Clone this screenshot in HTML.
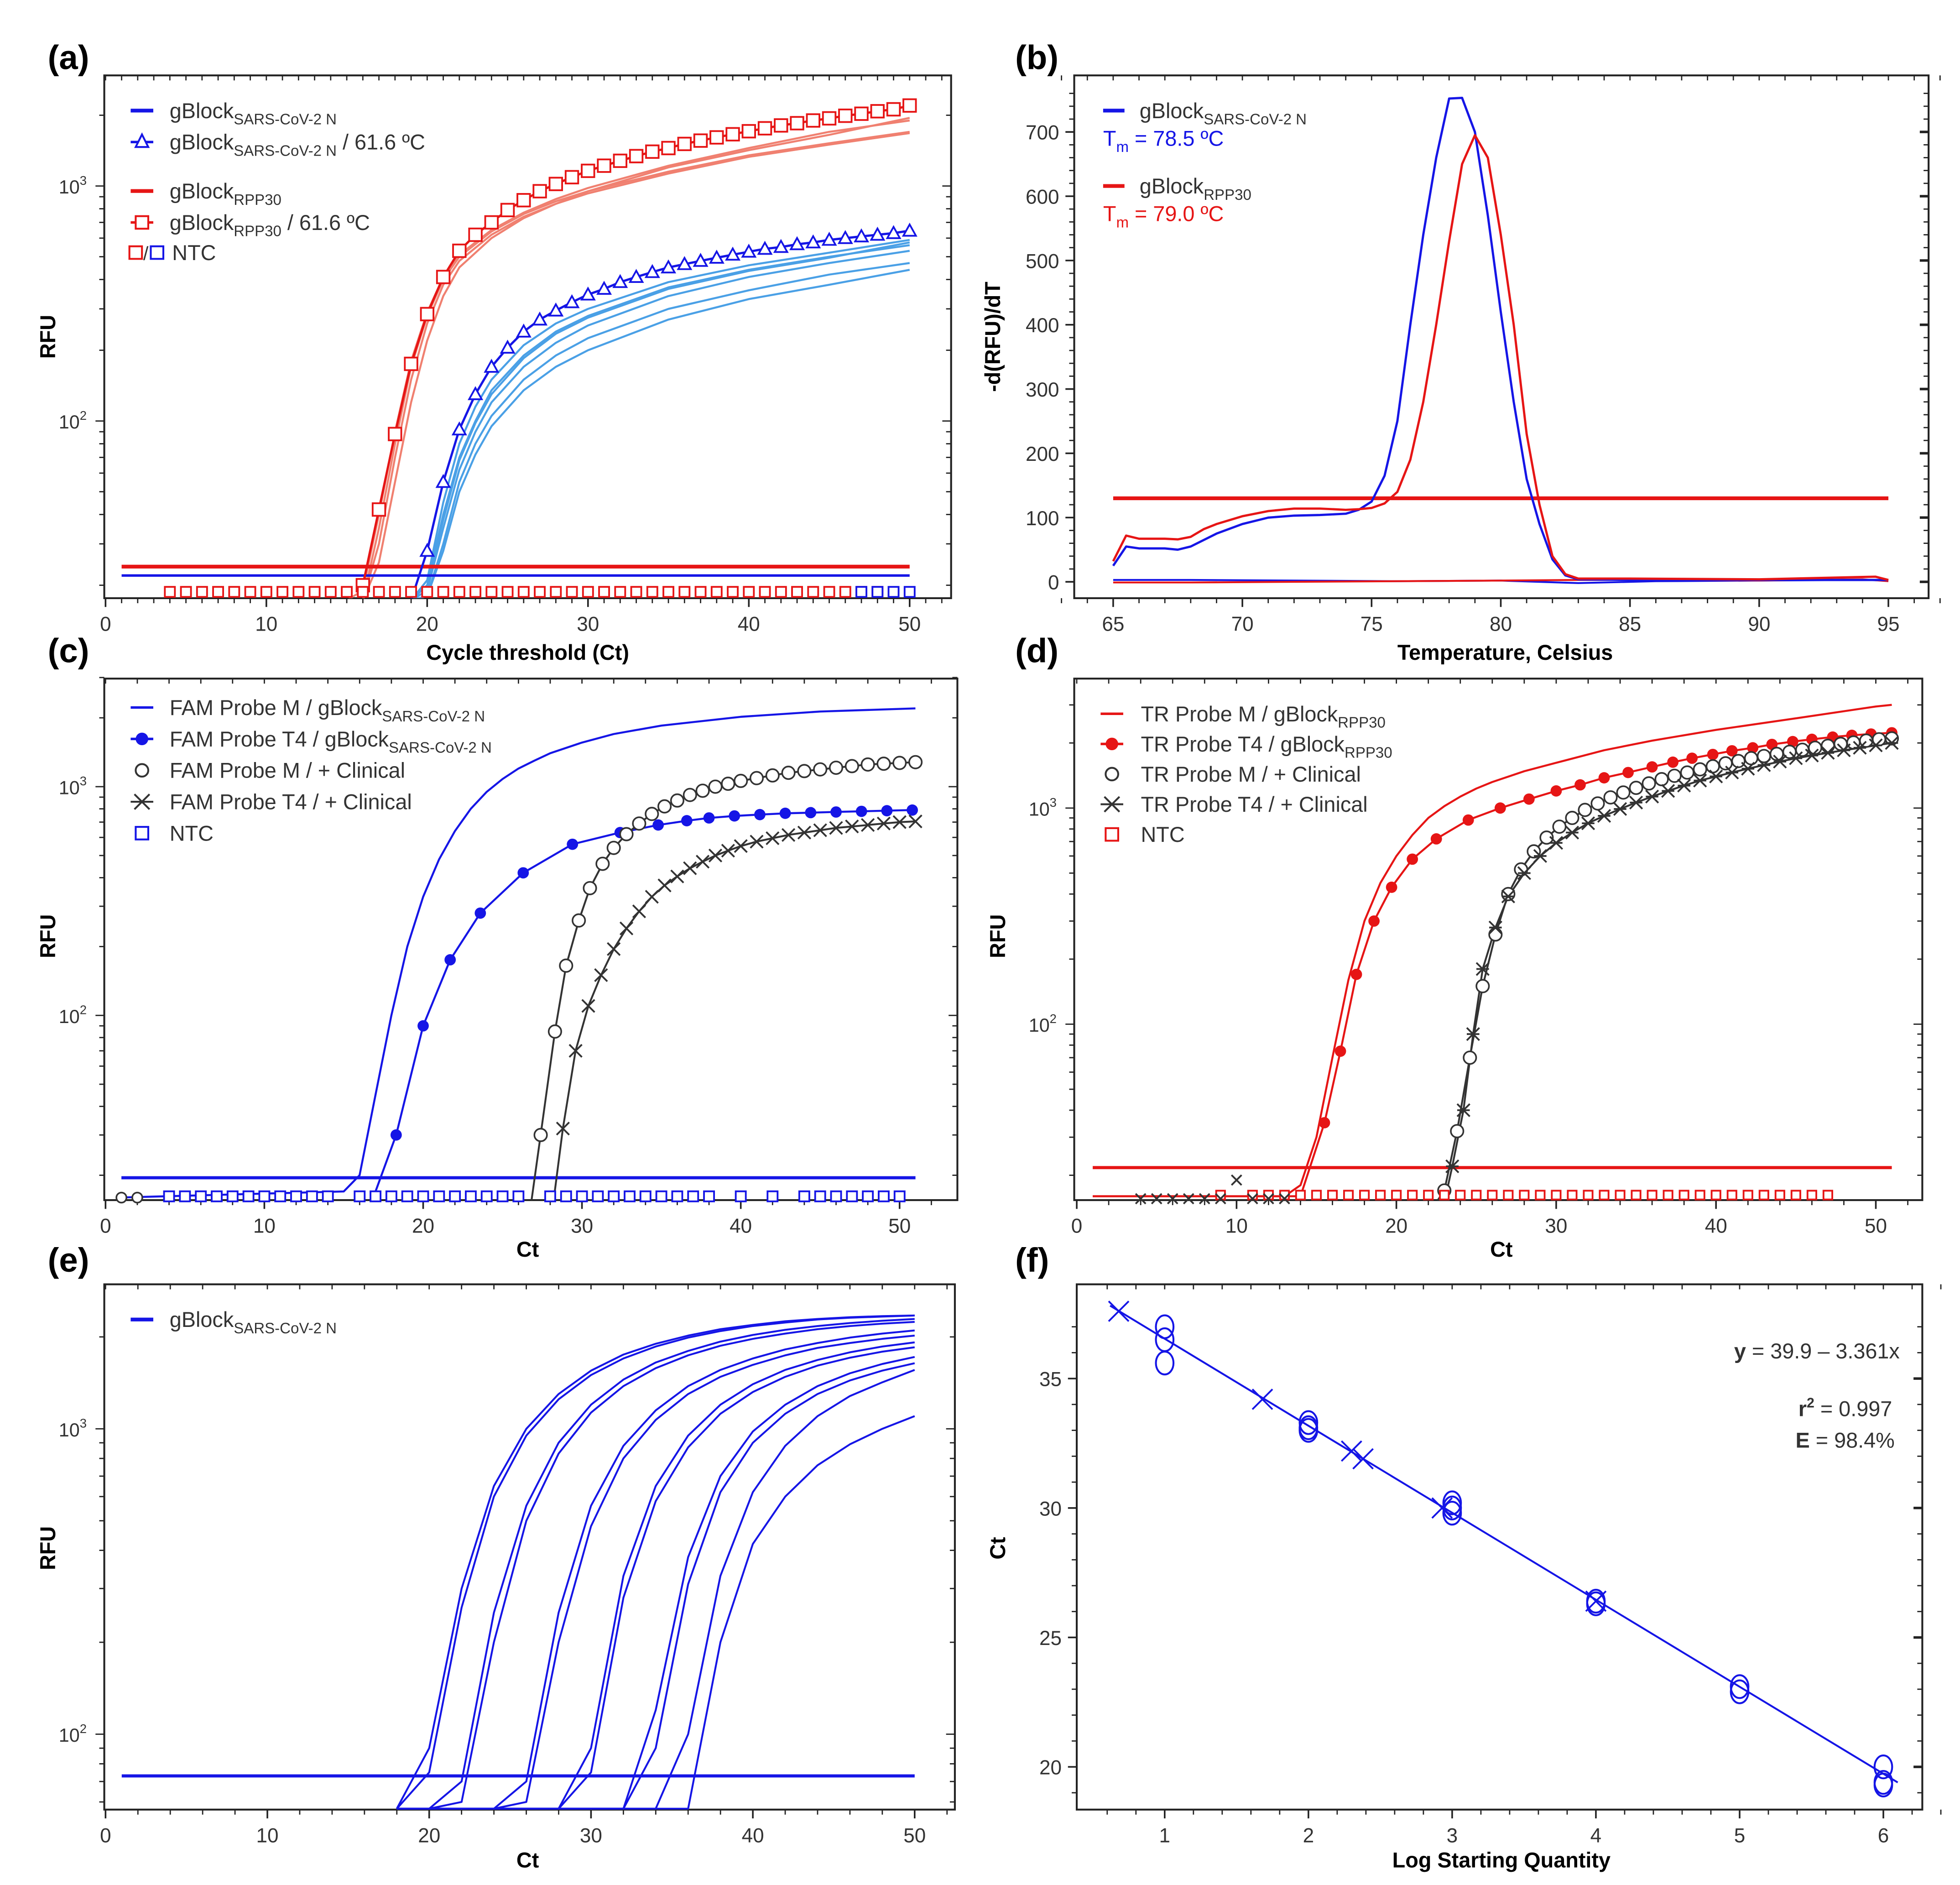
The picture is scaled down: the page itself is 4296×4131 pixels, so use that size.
<!DOCTYPE html>
<html><head><meta charset="utf-8"><style>
html,body{margin:0;padding:0;background:#fff;}
svg{display:block;font-family:"Liberation Sans",Arial,sans-serif;}
.pl{font-weight:bold;font-size:27px;}
.at{font-weight:bold;font-size:17px;}
.lg{font-size:17px;}
</style></head><body>
<svg id="fig" width="4296" height="4131" viewBox="0 0 1560 1500" preserveAspectRatio="none">
<defs>
<clipPath id="cA"><rect x="83" y="60" width="674" height="416"/></clipPath>
<clipPath id="cB"><rect x="855" y="60" width="680" height="416"/></clipPath>
<clipPath id="cC"><rect x="83" y="540" width="679" height="415"/></clipPath>
<clipPath id="cD"><rect x="855" y="540" width="675" height="415"/></clipPath>
<clipPath id="cE"><rect x="83" y="1022" width="677" height="418"/></clipPath>
<clipPath id="cF"><rect x="857" y="1022" width="673" height="418"/></clipPath>
</defs>
<text class="pl" x="38" y="55">(a)</text>
<text class="pl" x="808" y="55">(b)</text>
<text class="pl" x="38" y="527">(c)</text>
<text class="pl" x="808" y="527">(d)</text>
<text class="pl" x="38" y="1012">(e)</text>
<text class="pl" x="808" y="1012">(f)</text>

<text class="at" x="420" y="525" text-anchor="middle">Cycle threshold (Ct)</text>
<text class="at" x="1198" y="525" text-anchor="middle">Temperature, Celsius</text>
<text class="at" x="420" y="1000" text-anchor="middle">Ct</text>
<text class="at" x="1195" y="1000" text-anchor="middle">Ct</text>
<text class="at" x="420" y="1486" text-anchor="middle">Ct</text>
<text class="at" x="1195" y="1486" text-anchor="middle">Log Starting Quantity</text>
<text class="at" transform="translate(44,268) rotate(-90)" text-anchor="middle">RFU</text>
<text class="at" transform="translate(796,268) rotate(-90)" text-anchor="middle">-d(RFU)/dT</text>
<text class="at" transform="translate(44,745) rotate(-90)" text-anchor="middle">RFU</text>
<text class="at" transform="translate(800,745) rotate(-90)" text-anchor="middle">RFU</text>
<text class="at" transform="translate(44,1232) rotate(-90)" text-anchor="middle">RFU</text>
<text class="at" transform="translate(800,1232) rotate(-90)" text-anchor="middle">Ct</text>

<g class="lg">
<line x1="104" y1="88" x2="122" y2="88" stroke="#1515e6" stroke-width="3"/>
<text x="135" y="94" fill="#333">gBlock<tspan font-size="12" dy="5">SARS-CoV-2 N</tspan></text>
<line x1="104" y1="113" x2="122" y2="113" stroke="#1515e6" stroke-width="2"/>
<path d="M113,107 L118,117 L108,117 Z" fill="#fff" stroke="#1515e6" stroke-width="1.5"/>
<text x="135" y="119" fill="#333">gBlock<tspan font-size="12" dy="5">SARS-CoV-2 N</tspan><tspan dy="-5"> / 61.6 ºC</tspan></text>
<line x1="104" y1="152" x2="122" y2="152" stroke="#e61515" stroke-width="3"/>
<text x="135" y="158" fill="#333">gBlock<tspan font-size="12" dy="5">RPP30</tspan></text>
<line x1="104" y1="177" x2="122" y2="177" stroke="#e61515" stroke-width="2"/>
<rect x="108" y="172" width="10" height="10" fill="#fff" stroke="#e61515" stroke-width="1.5"/>
<text x="135" y="183" fill="#333">gBlock<tspan font-size="12" dy="5">RPP30</tspan><tspan dy="-5"> / 61.6 ºC</tspan></text>
<rect x="103" y="196" width="10" height="10" fill="none" stroke="#e61515" stroke-width="1.5"/>
<text x="114" y="207" fill="#333" font-size="15">/</text>
<rect x="120" y="196" width="10" height="10" fill="none" stroke="#1515e6" stroke-width="1.5"/>
<text x="137" y="207" fill="#333">NTC</text>
</g>
<g class="lg">
<line x1="878" y1="88" x2="895" y2="88" stroke="#1515e6" stroke-width="3"/>
<text x="907" y="94" fill="#333">gBlock<tspan font-size="12" dy="5">SARS-CoV-2 N</tspan></text>
<text x="878" y="116" fill="#1515e6">T<tspan font-size="12" dy="5">m</tspan><tspan dy="-5"> = 78.5 ºC</tspan></text>
<line x1="878" y1="148" x2="895" y2="148" stroke="#e61515" stroke-width="3"/>
<text x="907" y="154" fill="#333">gBlock<tspan font-size="12" dy="5">RPP30</tspan></text>
<text x="878" y="176" fill="#e61515">T<tspan font-size="12" dy="5">m</tspan><tspan dy="-5"> = 79.0 ºC</tspan></text>
</g>
<g class="lg">
<line x1="104" y1="563" x2="122" y2="563" stroke="#1515e6" stroke-width="2"/>
<text x="135" y="569" fill="#333">FAM Probe M / gBlock<tspan font-size="12" dy="5">SARS-CoV-2 N</tspan></text>
<line x1="104" y1="588" x2="122" y2="588" stroke="#1515e6" stroke-width="2"/>
<circle cx="113" cy="588" r="5" fill="#1515e6"/>
<text x="135" y="594" fill="#333">FAM Probe T4 / gBlock<tspan font-size="12" dy="5">SARS-CoV-2 N</tspan></text>
<circle cx="113" cy="613" r="5" fill="#fff" stroke="#333" stroke-width="1.5"/>
<text x="135" y="619" fill="#333">FAM Probe M / + Clinical</text>
<path d="M107,632 L119,644 M119,632 L107,644 M104,638 L122,638" stroke="#333" stroke-width="1.5"/>
<text x="135" y="644" fill="#333">FAM Probe T4 / + Clinical</text>
<rect x="108" y="658" width="10" height="10" fill="none" stroke="#1515e6" stroke-width="1.5"/>
<text x="135" y="669" fill="#333">NTC</text>
</g>
<g class="lg">
<line x1="876" y1="568" x2="894" y2="568" stroke="#e61515" stroke-width="2"/>
<text x="908" y="574" fill="#333">TR Probe M / gBlock<tspan font-size="12" dy="5">RPP30</tspan></text>
<line x1="876" y1="592" x2="894" y2="592" stroke="#e61515" stroke-width="2"/>
<circle cx="885" cy="592" r="5" fill="#e61515"/>
<text x="908" y="598" fill="#333">TR Probe T4 / gBlock<tspan font-size="12" dy="5">RPP30</tspan></text>
<circle cx="885" cy="616" r="5" fill="#fff" stroke="#333" stroke-width="1.5"/>
<text x="908" y="622" fill="#333">TR Probe M / + Clinical</text>
<path d="M879,634 L891,646 M891,634 L879,646 M876,640 L894,640" stroke="#333" stroke-width="1.5"/>
<text x="908" y="646" fill="#333">TR Probe T4 / + Clinical</text>
<rect x="880" y="659" width="10" height="10" fill="none" stroke="#e61515" stroke-width="1.5"/>
<text x="908" y="670" fill="#333">NTC</text>
</g>
<g class="lg">
<line x1="104" y1="1050" x2="122" y2="1050" stroke="#1515e6" stroke-width="3"/>
<text x="135" y="1056" fill="#333">gBlock<tspan font-size="12" dy="5">SARS-CoV-2 N</tspan></text>
</g>
<g class="lg" fill="#333" text-anchor="end">
<text x="1512" y="1081"><tspan font-weight="bold">y</tspan> = 39.9 – 3.361x</text>
<text x="1506" y="1127"><tspan font-weight="bold">r</tspan><tspan font-size="11" dy="-7" font-weight="bold">2</tspan><tspan dy="7"> = 0.997</tspan></text>
<text x="1508" y="1152"><tspan font-weight="bold">E</tspan> = 98.4%</text>
</g>
</svg>
<script>
// Panel (a)
const A_CYC = [16,17,18,19,20,21,22,23,24,25,26,27,28,29,30,31,32,33,34,35,36,37,38,39,40,41,42,43,44,45,46,47,48,49,50];
const A_RPP_616 = [20,42,88,175,285,410,530,620,700,790,870,950,1020,1090,1160,1220,1280,1340,1400,1450,1510,1560,1610,1660,1710,1760,1810,1850,1900,1940,1990,2030,2080,2120,2200];
const A_SARS_CYC = [19,20,21,22,23,24,25,26,27,28,29,30,31,32,33,34,35,36,37,38,39,40,41,42,43,44,45,46,47,48,49,50];
const A_SARS_616 = [17,28,55,92,130,170,205,240,270,295,320,345,365,390,410,430,450,465,480,495,510,525,540,550,565,575,590,600,610,620,630,645];
const A_FAINT_RED_CYC = [15,16,17,18,19,20,21,22,24,26,28,30,35,40,45,50];
const A_FAINT_RED_1 = [17,17,35,80,170,280,400,500,640,760,860,950,1150,1350,1520,1700];
const A_FAINT_RED_2 = [17,17,30,70,150,260,380,480,620,740,840,930,1130,1330,1500,1680];
const A_FAINT_RED_3 = [17,17,25,55,120,220,340,450,600,730,840,950,1200,1420,1650,1950];
const A_FAINT_RED_4 = [17,19,40,90,180,290,410,510,650,770,880,980,1220,1450,1700,1900];
const A_FAINT_BLUE_CYC = [19,20,21,22,23,24,26,28,30,35,40,45,50];
const A_FAINT_BLUE_1 = [17,20,40,70,100,135,190,240,280,370,440,500,560];
const A_FAINT_BLUE_2 = [17,19,35,62,90,120,170,215,255,340,410,470,530];
const A_FAINT_BLUE_3 = [17,18,30,55,80,105,150,190,225,300,360,420,470];
const A_FAINT_BLUE_4 = [17,18,28,50,72,95,135,170,200,270,330,380,440];
const A_FAINT_BLUE_5 = [17,21,45,80,115,150,210,260,300,390,460,520,590];
const A_FAINT_BLUE_6 = [17,20,38,68,98,130,185,235,275,365,435,495,575];
const A_THRESH = [24, 22];
const A_NTC_RED = [4,5,6,7,8,9,10,11,12,13,14,15,16,17,18,19,20,21,22,23,24,25,26,27,28,29,30,31,32,33,34,35,36,37,38,39,40,41,42,43,44,45,46,47,48];
const A_NTC_BLUE = [47,48,49,50];
const A_X_TICKS = [0,10,20,30,40,50];
// Panel (b)
const B_T_BLUE = [65,65.5,66,67,67.5,68,69,70,71,72,73,74,74.5,75,75.5,76,76.5,77,77.5,78,78.5,79,79.5,80,80.5,81,81.5,82,82.5,83,85,90,95];
const B_BLUE = [25,55,52,52,50,55,75,90,100,103,104,106,112,125,165,250,400,540,660,752,753,700,570,420,280,160,90,35,10,4,3,3,3];
const B_T_RED = [65,65.5,66,67,67.5,68,68.5,69,70,71,72,73,74,74.5,75,75.5,76,76.5,77,77.5,78,78.5,79,79.5,80,80.5,81,81.5,82,82.5,83,85,90,94.5,95];
const B_RED = [32,72,67,67,66,70,82,90,102,110,114,114,112,113,115,122,140,190,280,400,530,650,695,660,540,400,230,120,40,12,5,5,4,8,3];
const B_T_BASE = [65,68,72,76,80,83,86,90,94,95];
const B_BASE_BLUE = [3,3,2,1,2,-2,1,2,3,2];
const B_BASE_RED = [-1,-1,0,1,2,3,3,2,4,1];
const B_THRESH = [130];
const B_X_TICKS = [65,70,75,80,85,90,95];
const B_Y_TICKS = [0,100,200,300,400,500,600,700];
// Panel (c)
const C_M_CYC = [1,15,16,17,18,19,20,21,22,23,24,25,26,27,28,30,32,35,40,45,51];
const C_M = [16,17,20,45,100,200,330,480,640,800,950,1080,1200,1300,1400,1560,1700,1850,2020,2130,2200];
const C_T4_CYC = [17,18.3,20,21.7,23.6,26.3,29.4,32.4,34.8,36.6,38,39.6,41.2,42.8,44.4,46,47.6,49.2,50.8];
const C_T4 = [17,30,90,175,280,420,560,630,680,710,730,745,755,765,770,775,780,785,790];
const C_CM_CYC = [1,26.8,27.4,28.3,29,29.8,30.5,31.3,32,32.8,33.6,34.4,35.2,36,36.8,37.6,38.4,39.2,40,41,42,43,44,45,46,47,48,49,50,51];
const C_CM = [15,15,30,85,165,260,360,460,540,620,690,760,820,870,920,960,1000,1030,1060,1090,1120,1150,1170,1190,1210,1230,1250,1260,1270,1280];
const C_CT4_CYC = [1,28.2,28.8,29.6,30.4,31.2,32,32.8,33.6,34.4,35.2,36,36.8,37.6,38.4,39.2,40,41,42,43,44,45,46,47,48,49,50,51];
const C_CT4 = [15,15,32,70,110,150,195,240,285,330,370,405,440,470,500,525,550,575,595,615,630,645,660,670,680,690,700,705];
const C_NTC = [4,5,6,7,8,9,10,11,12,13,14,16,17,18,19,20,21,22,23,24,25,26,28,29,30,31,32,33,34,35,36,37,38,40,42,44,45,46,47,48,49,50];
const C_THRESH = [19.5];
const C_X_TICKS = [0,10,20,30,40,50];
// Panel (d)
const D_M_CYC = [1,13,14,15,16,17,18,19,20,21,22,23,24,25,26,28,30,33,36,40,45,50,51];
const D_M = [16,16,18,30,70,160,300,450,600,750,900,1020,1130,1230,1320,1480,1620,1850,2050,2300,2600,2950,3000];
const D_T4_CYC = [1,13,14,15.5,16.5,17.5,18.6,19.7,21,22.5,24.5,26.5,28.3,30,31.5,33,34.5,36,37.3,38.5,39.8,41,42.3,43.5,44.8,46,47.3,48.5,49.7,51];
const D_T4 = [16,16,16,35,75,170,300,430,580,720,880,1000,1100,1200,1280,1380,1460,1550,1630,1700,1770,1840,1900,1970,2030,2080,2130,2170,2200,2230];
const D_CM_CYC = [1,22.5,23,23.8,24.6,25.4,26.2,27,27.8,28.6,29.4,30.2,31,31.8,32.6,33.4,34.2,35,35.8,36.6,37.4,38.2,39,39.8,40.6,41.4,42.2,43,43.8,44.6,45.4,46.2,47,47.8,48.6,49.4,50.2,51];
const D_CM = [15,15,17,32,70,150,260,400,520,630,730,820,900,980,1050,1120,1180,1240,1300,1360,1410,1460,1510,1560,1610,1650,1700,1740,1780,1820,1860,1900,1940,1980,2010,2050,2080,2100];
const D_CT4_CYC = [1,23,23.5,24.2,24.8,25.4,26.2,27,28,29,30,31,32,33,34,35,36,37,38,39,40,41,42,43,44,45,46,47,48,49,50,51];
const D_CT4 = [15,15,22,40,90,180,280,390,500,600,690,770,850,920,990,1060,1130,1200,1270,1340,1400,1460,1520,1580,1640,1700,1750,1800,1850,1900,1950,2000];
const D_NTC = [9,11,12,13,14,15,16,17,18,19,20,21,22,23,24,25,26,27,28,29,30,31,32,33,34,35,36,37,38,39,40,41,42,43,44,45,46,47];
const D_NTC_X = [4,5,6,7,8,9,10,11,12,13];
const D_NTC_X_VAL = [16,16,16,16,16,16,19,16,16,16];
const D_THRESH = [21.7];
const D_X_TICKS = [0,10,20,30,40,50];
// Panel (e)
const E_CYC = [18,20,22,24,26,28,30,32,34,36,38,40,42,44,46,48,50];
const E_1 = [57,90,300,650,1000,1300,1550,1750,1900,2020,2120,2190,2250,2290,2320,2340,2350];
const E_2 = [57,75,260,600,950,1250,1500,1700,1860,1990,2090,2170,2230,2280,2310,2330,2350];
const E_3 = [57,57,70,250,560,900,1200,1450,1650,1800,1930,2030,2110,2170,2220,2260,2290];
const E_4 = [57,57,60,200,500,830,1130,1380,1580,1740,1870,1970,2050,2120,2170,2210,2240];
const E_5 = [57,57,57,57,70,250,560,880,1150,1380,1560,1700,1820,1910,1990,2050,2100];
const E_6 = [57,57,57,57,60,200,480,800,1070,1300,1480,1620,1740,1840,1910,1970,2020];
const E_7 = [57,57,57,57,57,57,90,330,650,950,1200,1400,1560,1680,1780,1860,1920];
const E_8 = [57,57,57,57,57,57,75,280,580,870,1120,1320,1480,1610,1710,1790,1850];
const E_9 = [57,57,57,57,57,57,57,57,120,380,700,980,1200,1380,1520,1630,1720];
const E_10 = [57,57,57,57,57,57,57,57,90,310,620,900,1120,1300,1440,1550,1640];
const E_11 = [57,57,57,57,57,57,57,57,57,100,330,620,880,1100,1280,1420,1560];
const E_12 = [57,57,57,57,57,57,57,57,57,57,200,420,600,760,890,1000,1100];
const E_THRESH = [73];
const E_X_TICKS = [0,10,20,30,40,50];
// Panel (f)
const F_X_CIRC = [1,1,1,2,2,2,3,3,3,4,4,5,5,6,6,6];
const F_Y_CIRC = [37.0,36.5,35.6,33.3,33.0,33.1,30.2,29.8,30.0,26.4,26.3,23.1,22.9,20.0,19.4,19.3];
const F_X_CROSS = [0.68,1.68,2.3,2.38,2.93,4.0];
const F_Y_CROSS = [37.6,34.2,32.2,31.9,30.0,26.4];
const F_FIT = [39.9, -3.361];
const F_FIT_RANGE = [0.62, 6.1];
const F_X_TICKS = [1,2,3,4,5,6];
const F_Y_TICKS = [20,25,30,35];

const NS='http://www.w3.org/2000/svg';
const svg=document.getElementById('fig');
function mk(tag,attrs,parent){const e=document.createElementNS(NS,tag);for(const k in attrs)e.setAttribute(k,attrs[k]);(parent||svg).appendChild(e);return e;}
const BLUE='#1515e6', RED='#e61515', LBLUE='#4aa0e6', LRED='#f08070', DARK='#333';
function logY(y3,dec){return v=>y3-dec*(Math.log10(v)-3);}
function lin(a0,p0,a1,p1){return v=>p0+(v-a0)*(p1-p0)/(a1-a0);}

const PA={x0:83,x1:757,y0:60,y1:476,xs:lin(0,84,50,724),ys:logY(148,187),clip:'cA',ymin:17.6,ymax:2800};
const PB={x0:855,x1:1535,y0:60,y1:476,xs:lin(65,886,95,1503),ys:lin(0,463,700,105),clip:'cB'};
const PC={x0:83,x1:762,y0:540,y1:955,xs:lin(0,84,50,716),ys:logY(626,182),clip:'cC',ymin:15.5,ymax:3000};
const PD={x0:855,x1:1530,y0:540,y1:955,xs:lin(0,857,50,1493),ys:logY(643,172),clip:'cD',ymin:15.2,ymax:3800};
const PE={x0:83,x1:760,y0:1022,y1:1440,xs:lin(0,84,50,728),ys:logY(1137,243),clip:'cE',ymin:57,ymax:2900};
const PF={x0:857,x1:1530,y0:1022,y1:1440,xs:lin(1,927,6,1499),ys:lin(20,1406,35,1097),clip:'cF'};

function frame(P,name){
  const r=mk('rect',{x:P.x0,y:P.y0,width:P.x1-P.x0,height:P.y1-P.y0,fill:'none',stroke:'#222','stroke-width':1.5});
  
  
}
function xTicks(P,ticks,minorStep,lo,hi,name){
  const g=mk('g',{});
  
  
  for(let v=lo;v<=hi+1e-9;v+=minorStep){const x=P.xs(v);mk('line',{x1:x,y1:P.y1,x2:x,y2:P.y1+4,stroke:'#222','stroke-width':1},g);mk('line',{x1:x,y1:P.y0,x2:x,y2:P.y0+4,stroke:'#222','stroke-width':1},g);}
  ticks.forEach(v=>{const x=P.xs(v);mk('line',{x1:x,y1:P.y1,x2:x,y2:P.y1+7,stroke:'#222','stroke-width':1.3},g);
    const t=mk('text',{x:x,y:P.y1+26,'text-anchor':'middle','font-size':16,fill:'#333'},g);t.textContent=v;
    
    });
}
function yTicksLin(P,ticks,minorStep,lo,hi,name){
  const g=mk('g',{});
  
  
  for(let v=lo;v<=hi+1e-9;v+=minorStep){const y=P.ys(v);mk('line',{x1:P.x0-4,y1:y,x2:P.x0,y2:y,stroke:'#222','stroke-width':1},g);mk('line',{x1:P.x1-4,y1:y,x2:P.x1,y2:y,stroke:'#222','stroke-width':1},g);}
  ticks.forEach(v=>{const y=P.ys(v);mk('line',{x1:P.x0-7,y1:y,x2:P.x0,y2:y,stroke:'#222','stroke-width':1.3},g);mk('line',{x1:P.x1-7,y1:y,x2:P.x1,y2:y,stroke:'#222','stroke-width':2},g);
    const t=mk('text',{x:P.x0-12,y:y+6,'text-anchor':'end','font-size':16,fill:'#333'},g);t.textContent=v;
    
    });
}
function yTicksLog(P,name){
  const g=mk('g',{});
  
  
  [10,100,1000].forEach(d=>{for(let m=1;m<10;m++){const v=d*m;if(v<P.ymin||v>P.ymax)continue;const y=P.ys(v);const L=m===1?7:4;
    mk('line',{x1:P.x0-L,y1:y,x2:P.x0,y2:y,stroke:'#222','stroke-width':1},g);mk('line',{x1:P.x1-L,y1:y,x2:P.x1,y2:y,stroke:'#222','stroke-width':1},g);
    if(m===1&&d>=100){const t=mk('text',{x:P.x0-14,y:y+6,'text-anchor':'end','font-size':15,fill:'#333'},g);
      t.innerHTML='10<tspan font-size="10" dy="-7">'+Math.log10(d)+'</tspan>';
      
      }}});
}
function pathD(P,X,Y,logClamp){return X.map((x,i)=>{let v=Y[i];if(logClamp)v=Math.max(v,P.ymin*0.98);return (i?'L':'M')+P.xs(x).toFixed(1)+','+P.ys(v).toFixed(1);}).join('');}
function series(P,X,Y,color,w,name,log){
  const p=mk('path',{d:pathD(P,X,Y,log),fill:'none',stroke:color,'stroke-width':w,'clip-path':'url(#'+P.clip+')','stroke-linejoin':'round'});
  
  
  return p;
}
function hline(P,v,color,w,xa,xb,name){
  const l=mk('line',{x1:xa,x2:xb,y1:P.ys(v),y2:P.ys(v),stroke:color,'stroke-width':w});
  
  
}
function marker(type,x,y,color,name,s){
  s=s||5;let e;
  if(type==='sq') e=mk('rect',{x:x-s,y:y-s,width:2*s,height:2*s,fill:'#fff',stroke:color,'stroke-width':1.4});
  else if(type==='tri') e=mk('path',{d:`M${x},${y-s} L${x+s},${y+s*0.8} L${x-s},${y+s*0.8} Z`,fill:'#fff',stroke:color,'stroke-width':1.4});
  else if(type==='dot') e=mk('circle',{cx:x,cy:y,r:s,fill:color});
  else if(type==='circ') e=mk('circle',{cx:x,cy:y,r:s,fill:'#fff',stroke:color,'stroke-width':1.3});
  else if(type==='oval') e=mk('ellipse',{cx:x,cy:y,rx:s,ry:s*1.3,fill:'none',stroke:color,'stroke-width':1.5});
  else if(type==='x') e=mk('path',{d:`M${x-s},${y-s}L${x+s},${y+s}M${x+s},${y-s}L${x-s},${y+s}`,stroke:color,'stroke-width':1.4});
  else if(type==='ast') e=mk('path',{d:`M${x-s},${y-s}L${x+s},${y+s}M${x+s},${y-s}L${x-s},${y+s}M${x-s},${y}L${x+s},${y}`,stroke:color,'stroke-width':1.4});
  
  
}

// Panel A
frame(PA,'plot-frame-a');
xTicks(PA,A_X_TICKS,1,0,52,'x-axis-a');
yTicksLog(PA,'y-axis-a');
[A_FAINT_RED_1,A_FAINT_RED_2,A_FAINT_RED_3,A_FAINT_RED_4].forEach(Y=>series(PA,A_FAINT_RED_CYC,Y,LRED,1.6,'faint-rpp30-curve',true));
[A_FAINT_BLUE_1,A_FAINT_BLUE_2,A_FAINT_BLUE_3,A_FAINT_BLUE_4,A_FAINT_BLUE_5,A_FAINT_BLUE_6].forEach(Y=>series(PA,A_FAINT_BLUE_CYC,Y,LBLUE,1.6,'faint-sars-curve',true));
hline(PA,A_THRESH[0],RED,3,PA.xs(1),PA.xs(50),'threshold-rpp30');
hline(PA,A_THRESH[1],BLUE,2,PA.xs(1),PA.xs(50),'threshold-sars');
series(PA,A_CYC,A_RPP_616,RED,1.8,'rpp30-616-line',true);
series(PA,A_SARS_CYC,A_SARS_616,BLUE,1.8,'sars-616-line',true);
A_CYC.forEach((c,i)=>{if(A_RPP_616[i]>PA.ymin)marker('sq',PA.xs(c),PA.ys(A_RPP_616[i]),RED,'rpp30-616-marker');});
A_SARS_CYC.forEach((c,i)=>{if(A_SARS_616[i]>PA.ymin)marker('tri',PA.xs(c),PA.ys(A_SARS_616[i]),BLUE,'sars-616-marker');});
A_NTC_RED.forEach(c=>marker('sq',PA.xs(c),471,RED,'ntc-red-marker',4));
A_NTC_BLUE.forEach(c=>marker('sq',PA.xs(c),471,BLUE,'ntc-blue-marker',4));

// Panel B
frame(PB,'plot-frame-b');
xTicks(PB,B_X_TICKS,1,63,97,'x-axis-b');
yTicksLin(PB,B_Y_TICKS,20,0,760,'y-axis-b');
hline(PB,B_THRESH[0],RED,3,PB.xs(65),PB.xs(95),'threshold-melt');
series(PB,B_T_BASE,B_BASE_BLUE,BLUE,1.5,'baseline-blue-melt',false);
series(PB,B_T_BASE,B_BASE_RED,RED,1.5,'baseline-red-melt',false);
series(PB,B_T_BLUE,B_BLUE,BLUE,1.8,'melt-curve-sars',false);
series(PB,B_T_RED,B_RED,RED,1.8,'melt-curve-rpp30',false);

// Panel C
frame(PC,'plot-frame-c');
xTicks(PC,C_X_TICKS,2,0,52,'x-axis-c');
yTicksLog(PC,'y-axis-c');
hline(PC,C_THRESH[0],BLUE,2.5,PC.xs(1),PC.xs(51),'threshold-c');
series(PC,C_M_CYC,C_M,BLUE,1.6,'fam-probe-m-line',true);
series(PC,C_T4_CYC,C_T4,BLUE,1.6,'fam-probe-t4-line',true);
series(PC,C_CM_CYC,C_CM,DARK,1.5,'fam-m-clinical-line',true);
series(PC,C_CT4_CYC,C_CT4,DARK,1.5,'fam-t4-clinical-line',true);
C_T4_CYC.forEach((c,i)=>{if(C_T4[i]>20)marker('dot',PC.xs(c),PC.ys(C_T4[i]),BLUE,'fam-t4-marker',4.5);});
C_CM_CYC.forEach((c,i)=>{if(C_CM[i]>20)marker('circ',PC.xs(c),PC.ys(C_CM[i]),DARK,'fam-m-clinical-marker',5);});
C_CT4_CYC.forEach((c,i)=>{if(C_CT4[i]>20)marker('x',PC.xs(c),PC.ys(C_CT4[i]),DARK,'fam-t4-clinical-marker',5);});
C_NTC.forEach(c=>marker('sq',PC.xs(c),952,BLUE,'ntc-c-marker',4));
marker('circ',PC.xs(1),953,DARK,'baseline-circle',4);
marker('circ',PC.xs(2),953,DARK,'baseline-circle',4);

// Panel D
frame(PD,'plot-frame-d');
xTicks(PD,D_X_TICKS,2,0,52,'x-axis-d');
yTicksLog(PD,'y-axis-d');
hline(PD,D_THRESH[0],RED,2.5,PD.xs(1),PD.xs(51),'threshold-d');
series(PD,D_M_CYC,D_M,RED,1.6,'tr-probe-m-line',true);
series(PD,D_T4_CYC,D_T4,RED,1.6,'tr-probe-t4-line',true);
series(PD,D_CM_CYC,D_CM,DARK,1.5,'tr-m-clinical-line',true);
series(PD,D_CT4_CYC,D_CT4,DARK,1.5,'tr-t4-clinical-line',true);
D_T4_CYC.forEach((c,i)=>{if(D_T4[i]>20)marker('dot',PD.xs(c),PD.ys(D_T4[i]),RED,'tr-t4-marker',4.5);});
D_CM_CYC.forEach((c,i)=>{if(D_CM[i]>16)marker('circ',PD.xs(c),PD.ys(D_CM[i]),DARK,'tr-m-clinical-marker',5);});
D_CT4_CYC.forEach((c,i)=>{if(D_CT4[i]>16)marker('ast',PD.xs(c),PD.ys(D_CT4[i]),DARK,'tr-t4-clinical-marker',5);});
D_NTC.forEach(c=>marker('sq',PD.xs(c),951,RED,'ntc-d-marker',3.5));
D_NTC_X.forEach((c,i)=>marker('x',PD.xs(c),PD.ys(D_NTC_X_VAL[i])+(D_NTC_X_VAL[i]>16?0:2),DARK,'baseline-x-marker',4));

// Panel E
frame(PE,'plot-frame-e');
xTicks(PE,E_X_TICKS,2,0,52,'x-axis-e');
yTicksLog(PE,'y-axis-e');
hline(PE,E_THRESH[0],BLUE,2.5,PE.xs(1),PE.xs(50),'threshold-e');
[E_1,E_2,E_3,E_4,E_5,E_6,E_7,E_8,E_9,E_10,E_11,E_12].forEach(Y=>series(PE,E_CYC,Y,BLUE,1.5,'amplification-curve',true));

// Panel F
frame(PF,'plot-frame-f');
xTicks(PF,F_X_TICKS,0.2,0.6,6.4,'x-axis-f');
yTicksLin(PF,F_Y_TICKS,1,19,37,'y-axis-f');
(function(){const x0=F_FIT_RANGE[0],x1=F_FIT_RANGE[1];
  const l=mk('line',{x1:PF.xs(x0),y1:PF.ys(F_FIT[0]+F_FIT[1]*x0),x2:PF.xs(x1),y2:PF.ys(F_FIT[0]+F_FIT[1]*x1),stroke:BLUE,'stroke-width':1.5});
  
  })();
F_X_CIRC.forEach((x,i)=>marker('oval',PF.xs(x),PF.ys(F_Y_CIRC[i]),BLUE,'standard-point',7));
F_X_CROSS.forEach((x,i)=>marker('x',PF.xs(x),PF.ys(F_Y_CROSS[i]),BLUE,'unknown-point',8));
</script>
</body></html>
